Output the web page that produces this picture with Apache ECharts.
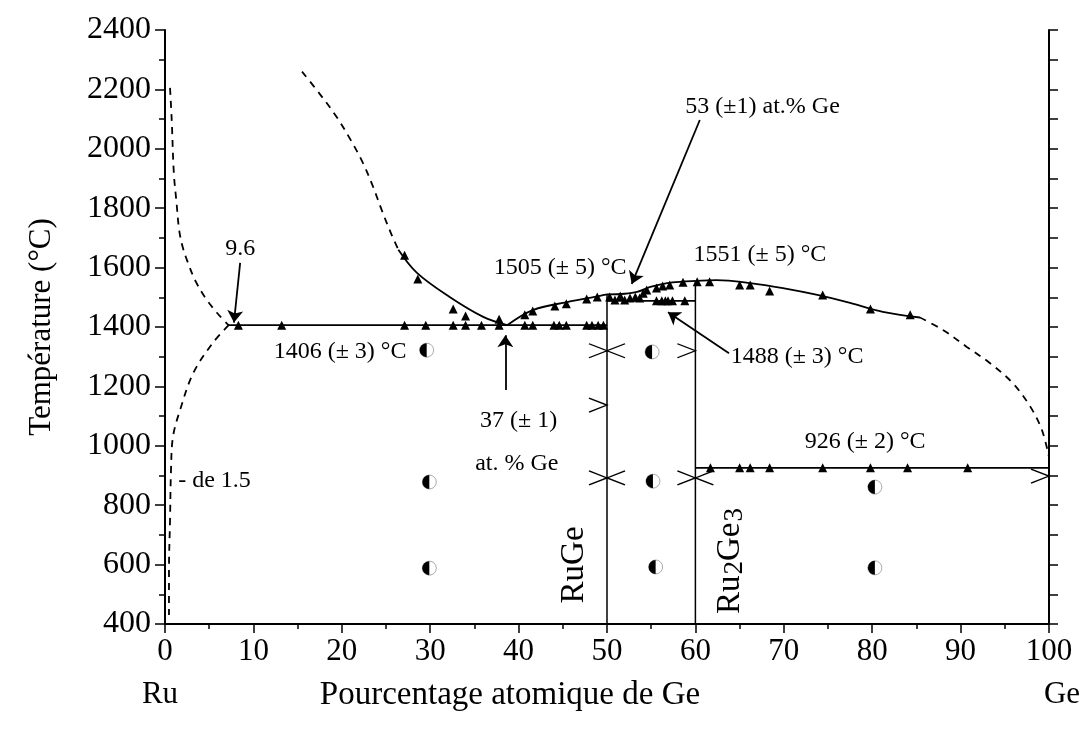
<!DOCTYPE html>
<html><head><meta charset="utf-8">
<script src="https://cdn.jsdelivr.net/npm/echarts@6/dist/echarts.min.js"></script>
<style>html,body{margin:0;padding:0;background:#fff}#c{width:1083px;height:735px}</style>
</head><body><div id="c"></div>
<script>
const FONT = 'Liberation Serif';

// ---- curves (x = at.% Ge, y = °C) ----
const ruLiquidusLeft = [[0.57,2205],[0.76,2097],[1.0,1918],[1.3,1820],[1.6,1727],[2.0,1669],[2.6,1616],[3.4,1558],[4.5,1501],[5.9,1447],[7.2,1406]];
const ruSolvus = [[7.2,1406],[5.4,1346],[3.2,1245],[1.7,1120],[0.9,1030],[0.68,918],[0.57,750],[0.45,582],[0.45,430]];
const liqDashedA = [[15.5,2260],[17.5,2185],[19.4,2108],[21.0,2030],[22.4,1952],[23.5,1875],[24.5,1795],[25.5,1720],[26.4,1660]];
const liqSolidA = [[26.4,1660],[28.5,1582],[32.2,1501],[36.0,1434],[38.7,1406]];
const liqSolidB = [[38.7,1406],[41.6,1457],[45.5,1484],[49.2,1505],[50,1510]];
const liqSolidC = [[50,1510],[52,1512],[53.4,1518],[54.9,1535],[56.8,1548],[58.6,1553],[60,1555]];
const liqSolidD = [[60,1555],[62.4,1558],[66.2,1548],[69.9,1531],[73.8,1508],[77.5,1481],[81.2,1451],[85.4,1432]];
const liqDashedD = [[85.4,1432],[88.0,1390],[90.7,1333],[93.3,1279],[95.9,1211],[97.9,1131],[99.2,1053],[100,962]];
const eutectic1406 = [[7.2,1406],[50,1406]];
const eutectic1488 = [[50,1488],[60,1488]];
const eutectic926 = [[60,926],[100,926]];
const ruGeLine = [[50,400],[50,1510]];
const ru2Ge3Line = [[60,400],[60,1555]];

// ---- measured points ----
const tri1406X = [8.3,13.2,27.1,29.5,32.6,34.0,35.8,37.8,40.7,41.6,44.0,44.6,45.4,47.7,48.3,49.0,49.6];
const tri1488X = [55.6,56.2,56.6,56.9,57.4,58.8];
const tri926X = [61.7,65.0,66.2,68.4,74.4,79.8,84.0,90.8];
const triLiquidus = [[27.1,1642],[28.6,1562],[32.6,1461],[34.0,1437],[37.8,1426],[40.7,1441],[41.6,1454],[44.1,1471],[45.4,1478],[47.7,1494],[48.9,1501],[50.3,1501],[50.9,1491],[51.5,1504],[52.0,1491],[52.6,1498],[53.2,1501],[53.7,1498],[54.1,1514],[54.5,1525],[55.6,1531],[56.3,1538],[57.1,1541],[58.6,1551],[60.2,1552],[61.6,1552],[65.0,1541],[66.2,1541],[68.4,1521],[74.4,1508],[79.8,1461],[84.3,1441]];
const halfCircles = [[29.6,1322],[29.9,878],[29.9,588],[55.1,1316],[55.2,881],[55.5,592],[80.3,861],[80.3,589]];
const markRight = [[50,1320],[60,1320],[50,1137],[50,892],[60,892],[100,898]];
const markLeft = [[50,1320],[50,892],[60,892]];

// ---- annotations ----
const labels = [
  ['53 (±1) at.% Ge', 67.6, 2141],
  ['1505 (± 5) °C', 44.7, 1599],
  ['1551 (± 5) °C', 67.3, 1642],
  ['1488 (± 3) °C', 71.5, 1299],
  ['9.6', 8.5, 1663],
  ['1406 (± 3) °C', 19.8, 1316],
  ['37 (± 1)', 40.0, 1083],
  ['at. % Ge', 39.8, 939],
  ['926 (± 2) °C', 79.2, 1013],
  ['- de 1.5', 5.6, 881]
];
const arrows = [
  [[8.5,1616],[7.8,1415]],
  [[38.5,1188],[38.5,1372]],
  [[60.5,2097],[52.8,1545]],
  [[63.8,1312],[56.9,1450]]
];
const phaseLabels = [['{n|RuGe}', 46.3, 599], ['{n|Ru}{s|2}{n|Ge}{s|3}', 64.0, 612]];

const chart = echarts.init(document.getElementById('c'), null, {renderer: 'canvas'});
const solid = {color: '#000', width: 1.8, type: 'solid'};
const dashed = {color: '#000', width: 1.8, type: [7, 6]};
function lineSeries(data, style, smooth) {
  return {type: 'line', data: data, showSymbol: false, symbol: 'none', smooth: smooth ? 0.35 : false,
    lineStyle: style, silent: true, z: 2, animation: false};
}
const txt = {show: true, position: 'inside', color: '#000', opacity: 1, fontFamily: FONT, fontSize: 24};
const series = [
  lineSeries(ruLiquidusLeft, dashed, true),
  lineSeries(ruSolvus, dashed, true),
  lineSeries(liqDashedA, dashed, true),
  lineSeries(liqSolidA, solid, true),
  lineSeries(liqSolidB, solid, true),
  lineSeries(liqSolidC, solid, true),
  lineSeries(liqSolidD, solid, true),
  lineSeries(liqDashedD, dashed, true),
  lineSeries(eutectic1406, solid, false),
  lineSeries(eutectic1488, solid, false),
  lineSeries(eutectic926, solid, false),
  lineSeries(ruGeLine, {color:'#000', width:1.5}, false),
  lineSeries(ru2Ge3Line, {color:'#000', width:1.5}, false),
  {type: 'scatter', symbol: 'triangle', symbolSize: 9, itemStyle: {color: '#000', opacity: 1}, z: 4,
    data: tri1406X.map(x => [x, 1406]).concat(tri1488X.map(x => [x, 1488]), tri926X.map(x => [x, 926]), triLiquidus)},
  {type: 'scatter', symbol: 'circle', symbolSize: 14, itemStyle: {color: 'transparent', borderColor: '#aaa', borderWidth: 1, opacity: 1}, z: 4, data: halfCircles},
  {type: 'scatter', symbol: 'path://M50,0 A50,50 0 0 0 50,100 Z', symbolSize: [7, 14], symbolOffset: [-3.5, 0],
    itemStyle: {color: '#000', opacity: 1}, z: 5, data: halfCircles},
  {type: 'scatter', symbol: 'path://M0,0 L20,8 L0,16', symbolSize: [18, 14], symbolOffset: [-9, 0],
    itemStyle: {color: 'transparent', borderColor: '#000', borderWidth: 1.4, opacity: 1}, z: 4, data: markRight},
  {type: 'scatter', symbol: 'path://M20,0 L0,8 L20,16', symbolSize: [18, 14], symbolOffset: [9, 0],
    itemStyle: {color: 'transparent', borderColor: '#000', borderWidth: 1.4, opacity: 1}, z: 4, data: markLeft},
  {type: 'lines', coordinateSystem: 'cartesian2d', symbol: ['none', 'arrow'], symbolSize: 12, z: 5,
    lineStyle: {color: '#000', width: 1.8, opacity: 1}, data: arrows.map(c => ({coords: c}))},
  {type: 'scatter', symbolSize: 0, z: 6, itemStyle: {opacity: 1},
    data: labels.map(l => ({name: l[0], value: [l[1], l[2]]})),
    label: Object.assign({}, txt, {formatter: p => p.name})},
  {type: 'scatter', symbolSize: 0, z: 6, itemStyle: {opacity: 1},
    data: phaseLabels.map(l => ({name: l[0], value: [l[1], l[2]]})),
    label: {show: true, position: 'inside', rotate: 90, opacity: 1, formatter: p => p.name, color: '#000',
      rich: {
        n: {fontFamily: FONT, fontSize: 33, lineHeight: 36, color: '#000'},
        s: {fontFamily: FONT, fontSize: 27, lineHeight: 27, color: '#000', verticalAlign: 'bottom', padding: [30, 0, 0, 1]}
      }}}
];

chart.setOption({
  animation: false,
  backgroundColor: '#fff',
  grid: {left: 165, right: 34, top: 30, bottom: 111, containLabel: false},
  xAxis: {type: 'value', min: 0, max: 100, interval: 10,
    axisLine: {show: true, onZero: false, lineStyle: {color: '#000', width: 2}},
    axisTick: {show: true, inside: false, length: 9, lineStyle: {color: '#000', width: 1.5}},
    minorTick: {show: true, splitNumber: 2, length: 5, lineStyle: {color: '#000', width: 1.5}},
    splitLine: {show: false},
    axisLabel: {color: '#000', fontFamily: FONT, fontSize: 31, margin: 12, formatter: v => String(v)}},
  yAxis: [
    {type: 'value', min: 400, max: 2400, interval: 200, position: 'left',
      name: 'Température (°C)', nameLocation: 'middle', nameGap: 108,
      nameTextStyle: {color: '#000', fontFamily: FONT, fontSize: 31, padding: [0, 0, 0, 0]},
      axisLine: {show: true, onZero: false, lineStyle: {color: '#000', width: 2}},
      axisTick: {show: true, inside: false, length: 10, lineStyle: {color: '#000', width: 1.5}},
      minorTick: {show: true, splitNumber: 2, length: 6, lineStyle: {color: '#000', width: 1.5}},
      splitLine: {show: false},
      axisLabel: {color: '#000', fontFamily: FONT, fontSize: 32, margin: 14, formatter: v => String(v)}},
    {type: 'value', min: 400, max: 2400, interval: 100, position: 'right',
      axisLine: {show: true, onZero: false, lineStyle: {color: '#000', width: 2}},
      axisTick: {show: true, inside: false, length: 9, lineStyle: {color: '#000', width: 1.5}},
      splitLine: {show: false}, axisLabel: {show: false}}
  ],
  graphic: [
    {type: 'text', style: {text: 'Ru', x: 160, y: 695, font: '31px "Liberation Serif"', fill: '#000', textAlign: 'center', textVerticalAlign: 'middle'}},
    {type: 'text', style: {text: 'Pourcentage atomique de Ge', x: 510, y: 695, font: '33px "Liberation Serif"', fill: '#000', textAlign: 'center', textVerticalAlign: 'middle'}},
    {type: 'text', style: {text: 'Ge', x: 1062, y: 695, font: '31px "Liberation Serif"', fill: '#000', textAlign: 'center', textVerticalAlign: 'middle'}}
  ],
  series: series
});
</script>
</body></html>
